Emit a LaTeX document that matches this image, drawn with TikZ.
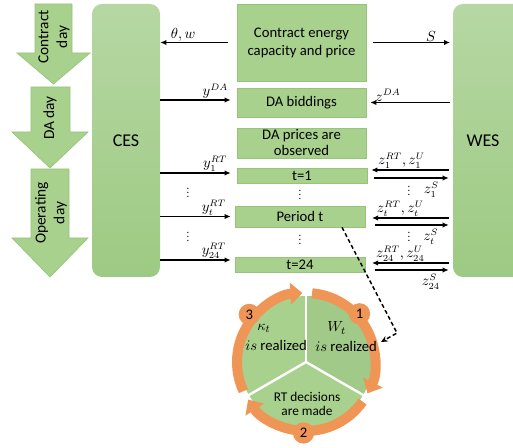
\documentclass[tikz,border=0pt]{standalone}
\usepackage{fontspec}
\setmainfont{Carlito}
\usetikzlibrary{arrows.meta,calc}
\definecolor{boxgreen}{HTML}{A9D18E}
\definecolor{boxline}{HTML}{97C47A}
\definecolor{secdark}{HTML}{A1C987}
\definecolor{cestop}{HTML}{B6D7A3}
\definecolor{cesbot}{HTML}{9DCA83}
\definecolor{ringorange}{HTML}{EF9657}
\tikzset{
    dayarrow/.style={fill=boxgreen, draw=boxline, line width=0.5pt},
    daytext/.style={rotate=90, align=center, inner sep=0pt, font=\fontsize{11.5}{14}\selectfont},
    sysbox/.style={rounded corners=7.5pt, top color=cestop, bottom color=cesbot, draw=none, font=\fontsize{13.5}{16}\selectfont},
    systext/.style={font=\fontsize{13.5}{16}\selectfont},
    stagebox/.style={draw=boxline, fill=boxgreen, line width=0.5pt, align=center, inner sep=0pt, font=\fontsize{11}{12}\selectfont},
    flow/.style={-{Latex[length=4.5pt,width=4pt]}, line width=1.1pt},
    lbl/.style={inner sep=0.5pt, font=\fontsize{10.5}{12}\selectfont},
    dotsnode/.style={align=center, inner sep=0pt, font=\fontsize{8}{3}\selectfont},
    ringarrow/.style={draw=ringorange, line width=7.5pt, -{Triangle[length=9pt,width=16pt]}},
    numcirc/.style={circle, fill=ringorange, minimum size=16pt, inner sep=0pt, font=\fontsize{11}{12}\selectfont},
    sectext/.style={align=left, inner sep=0pt, font=\fontsize{11}{15}\selectfont},
    dashlink/.style={dash pattern=on 3pt off 2pt, line width=1.1pt, -{Stealth[length=5pt,width=4.5pt]}}
}
\begin{document}
\begin{tikzpicture}[x=0.75pt,y=-0.75pt]
    \useasboundingbox (0,0) rectangle (513,448);
    \clip (0,0) rectangle (513,448);

    \draw[dayarrow] (35,4) -- (72,4) -- (72,53) -- (90,53) -- (53.5,84) -- (17,53) -- (35,53) -- cycle;
    \draw[dayarrow] (31,87) -- (70,87) -- (70,132) -- (88,132) -- (50,168) -- (12,132) -- (31,132) -- cycle;
    \draw[dayarrow] (31,169) -- (69,169) -- (69,238) -- (88,238) -- (50,277) -- (12,238) -- (31,238) -- cycle;
    \node[daytext] (contractday) at (54,37) {Contract\\day};
    \node[daytext] (daday) at (50,118) {DA day};
    \node[daytext] (opday) at (51,213) {Operating\\day};

    \node[sysbox, minimum width=51pt, minimum height=204.75pt] (ces) at (126,140.5) {CES};
    \node[sysbox, minimum width=52.5pt, minimum height=204.75pt] (wes) at (488,140.5) {};
    \node[systext] (westext) at (483,141) {WES};

    \node[stagebox, minimum width=96.75pt, minimum height=57.75pt] (contract) at (301.5,42.5) {Contract energy\\[1.5pt]capacity and price};
    \node[stagebox, minimum width=96.75pt, minimum height=21.75pt] (bid) at (301.5,102.5) {DA biddings};
    \node[stagebox, minimum width=96.75pt, minimum height=22.5pt] (obs) at (301.5,143) {DA prices are\\observed};
    \node[stagebox, minimum width=97.5pt, minimum height=11.25pt] (t1) at (302,175.5) {t=1};
    \node[stagebox, minimum width=97.5pt, minimum height=15.75pt] (pert) at (300,216.5) {Period t};
    \node[stagebox, minimum width=97.5pt, minimum height=11.25pt] (t24) at (300,264.5) {t=24};

    \draw[flow, shorten <=6.5pt] (contract.west) -- (contract.west -| ces.east) node[lbl, above, pos=0.7] (lbltw) {$\theta, w$};
    \draw[flow, shorten >=4.5pt] ($(ces.east |- bid.west)+(0,-2.5)$) -- ($(bid.west)+(0,-2.5)$) node[lbl, above, pos=0.72] (lblyda) {$y^{DA}$};
    \draw[flow, shorten >=4.5pt] ($(ces.east |- t1.west)+(0,-2.5)$) -- ($(t1.west)+(0,-2.5)$) node[lbl, above, pos=0.72] (lbly1) {$y_1^{RT}$};
    \draw[flow, shorten >=3pt] (ces.east |- pert.west) -- (pert.west) node[lbl, above, pos=0.72] (lblyt) {$y_t^{RT}$};
    \draw[flow, shorten >=3pt] ($(ces.east |- t24.west)+(0,-4.5)$) -- ($(t24.west)+(0,-4.5)$) node[lbl, above, pos=0.72] (lbly24) {$y_{24}^{RT}$};

    \draw[flow, shorten <=5pt, shorten >=2pt] (contract.east) -- (contract.east -| wes.west) node[lbl, above, pos=0.75] (lbls) {$S$};
    \draw[flow, shorten <=2pt, shorten >=3pt] (wes.west |- bid.east) -- (bid.east) node[lbl, above, pos=0.75] (lblzda) {$z^{DA}$};

    \draw[flow, shorten <=3pt, shorten >=3pt] ($(wes.west |- t1.east)+(0,-5.5)$) -- ($(t1.east)+(0,-5.5)$) node[lbl, above, pos=0.6] (lblz1) {$z_1^{RT}, z_1^{U}$};
    \draw[flow, shorten <=5pt, shorten >=3pt] ($(t1.east)+(0,2.5)$) -- ($(wes.west |- t1.east)+(0,2.5)$) node[lbl, below=2pt, pos=0.75] (lblz1s) {$z_1^{S}$};
    \draw[flow, shorten <=3pt, shorten >=5pt] ($(wes.west |- pert.east)+(0,1.5)$) -- ($(pert.east)+(0,1.5)$) node[lbl, above, pos=0.6] (lblzt) {$z_t^{RT}, z_t^{U}$};
    \draw[flow, shorten <=7pt, shorten >=3pt] ($(pert.east)+(0,8.5)$) -- ($(wes.west |- pert.east)+(0,8.5)$) node[lbl, below=2pt, pos=0.75] (lblzts) {$z_t^{S}$};
    \draw[flow, shorten <=3pt, shorten >=5pt] ($(wes.west |- t24.east)+(0,-1.5)$) -- ($(t24.east)+(0,-1.5)$) node[lbl, above, pos=0.6] (lblz24) {$z_{24}^{RT}, z_{24}^{U}$};
    \draw[flow, shorten <=7pt, shorten >=3pt] ($(t24.east)+(0,5.5)$) -- ($(wes.west |- t24.east)+(0,5.5)$) node[lbl, below=2pt, pos=0.75] (lblz24s) {$z_{24}^{S}$};

    \node[dotsnode] (dotsl1) at (188,193) {.\\.\\.};
    \node[dotsnode] (dotsl2) at (188,237) {.\\.\\.};
    \node[dotsnode] (dotsm1) at (300,195) {.\\.\\.};
    \node[dotsnode] (dotsm2) at (300,240) {.\\.\\.};
    \node[dotsnode] (dotsr1) at (409,191) {.\\.\\.};
    \node[dotsnode] (dotsr2) at (409,237) {.\\.\\.};

    \begin{scope}[shift={(306,362)}, yscale=-1]
        \fill[secdark] (0,0) -- (90:66) arc (90:-30:66) -- cycle;
        \fill[boxgreen] (0,0) -- (-30:66) arc (-30:-150:66) -- cycle;
        \fill[boxgreen] (0,0) -- (210:66) arc (210:90:66) -- cycle;
        \foreach \a in {90,-30,210} \draw[white, line width=1.8pt] (0,0) -- (\a:76);
        \draw[ringarrow] (85:69) arc (85:-27:69);
        \draw[ringarrow] (-35:69) arc (-35:-147:69);
        \draw[ringarrow] (205:69) arc (205:93:69);
        \node[numcirc] (n1) at (42:72) {1};
        \node[numcirc] (n2) at (-92:71) {2};
        \node[numcirc] (n3) at (140:74) {3};
    \end{scope}
    \node[sectext, anchor=west] (kappa) at (245,337) {\hspace*{9pt}$\kappa_t$\\$is$ realized};
    \node[sectext, anchor=west] (wind) at (315,337) {\hspace*{9pt}$W_t$\\$is$ realized};
    \node[sectext, align=center, font=\fontsize{10}{10.5}\selectfont] (rtdec) at (307,404) {RT decisions\\are made};

    \coordinate (bend) at (397,333);
    \coordinate (ringpt) at (381,342);
    \draw[dashlink] ([xshift=31.5pt]pert.south) -- (bend) -- (ringpt);
\end{tikzpicture}
\end{document}
